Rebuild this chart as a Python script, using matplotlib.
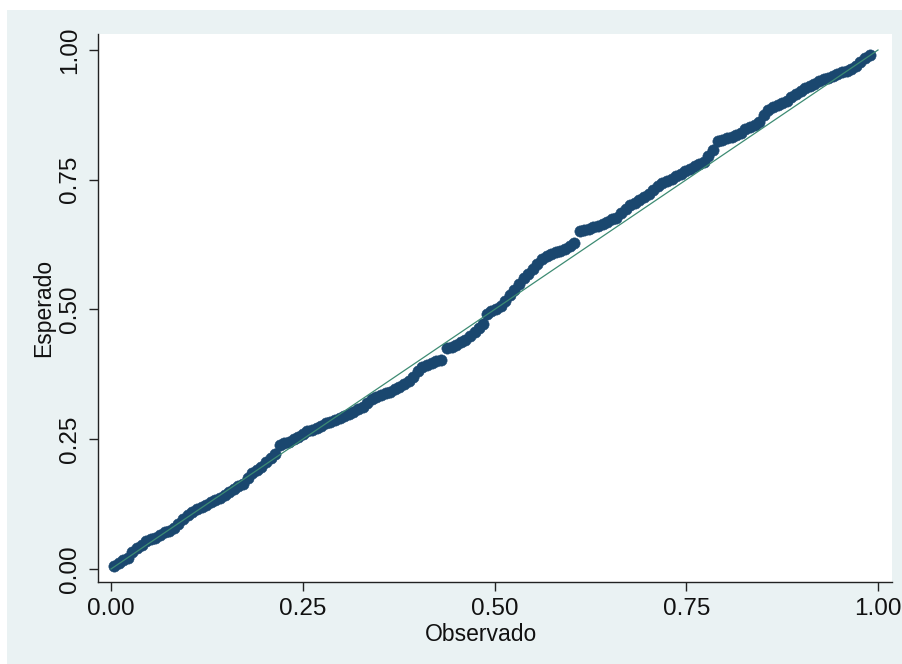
import matplotlib
matplotlib.use("Agg")
import matplotlib.pyplot as plt
from matplotlib.patches import Rectangle

plt.rcParams['font.family'] = ['Liberation Sans', 'DejaVu Sans']

observado = [
    0.004, 0.010, 0.016, 0.022, 0.028, 0.034, 0.040, 0.046, 0.052, 0.058,
    0.064, 0.070, 0.076, 0.082, 0.088, 0.094, 0.100, 0.106, 0.112, 0.118,
    0.124, 0.130, 0.136, 0.142, 0.148, 0.154, 0.160, 0.166, 0.172, 0.178,
    0.184, 0.190, 0.196, 0.202, 0.208, 0.214,
    0.220, 0.226, 0.232, 0.238, 0.244, 0.250, 0.256, 0.262, 0.268, 0.274,
    0.280, 0.286, 0.292, 0.298, 0.304, 0.310, 0.316, 0.322, 0.328, 0.334,
    0.340, 0.346, 0.352, 0.358, 0.364, 0.370, 0.376, 0.382, 0.388, 0.394,
    0.400, 0.406, 0.412, 0.418, 0.424, 0.430,
    0.438, 0.444, 0.450, 0.456, 0.462, 0.468, 0.474, 0.480, 0.485,
    0.490, 0.496, 0.502, 0.508, 0.514, 0.520, 0.526, 0.532, 0.538, 0.544,
    0.550, 0.556, 0.562, 0.568, 0.574, 0.580, 0.586, 0.592, 0.598, 0.604,
    0.611, 0.617, 0.623, 0.629, 0.635, 0.641, 0.647, 0.653, 0.659, 0.665,
    0.671, 0.677, 0.683, 0.689, 0.695, 0.701, 0.707, 0.713, 0.719, 0.725,
    0.731, 0.737, 0.743, 0.749, 0.755, 0.761, 0.767, 0.773, 0.779, 0.785,
    0.791, 0.797, 0.803, 0.809, 0.815, 0.821, 0.827, 0.833, 0.839, 0.845,
    0.851, 0.857, 0.863, 0.869, 0.875, 0.881, 0.887, 0.893, 0.899, 0.905,
    0.911, 0.917, 0.923, 0.929, 0.935, 0.941, 0.947, 0.953, 0.959, 0.965,
    0.971, 0.977, 0.983, 0.989,
]
esperado = [
    0.006, 0.012, 0.018, 0.022, 0.033, 0.040, 0.047, 0.054, 0.058, 0.060,
    0.066, 0.072, 0.074, 0.079, 0.087, 0.096, 0.104, 0.110, 0.116, 0.120,
    0.124, 0.130, 0.133, 0.137, 0.143, 0.149, 0.155, 0.160, 0.164, 0.176,
    0.185, 0.190, 0.197, 0.206, 0.213, 0.222,
    0.239, 0.242, 0.244, 0.250, 0.254, 0.260, 0.266, 0.267, 0.271, 0.276,
    0.281, 0.284, 0.287, 0.290, 0.294, 0.298, 0.303, 0.308, 0.313, 0.320,
    0.327, 0.332, 0.335, 0.339, 0.342, 0.346, 0.351, 0.357, 0.362, 0.370,
    0.381, 0.389, 0.394, 0.397, 0.400, 0.403,
    0.425, 0.428, 0.432, 0.437, 0.441, 0.448, 0.456, 0.465, 0.473,
    0.492, 0.497, 0.500, 0.506, 0.517, 0.527, 0.537, 0.549, 0.560, 0.568,
    0.578, 0.588, 0.597, 0.604, 0.607, 0.611, 0.613, 0.617, 0.622, 0.628,
    0.651, 0.653, 0.655, 0.658, 0.661, 0.665, 0.669, 0.674, 0.677, 0.685,
    0.694, 0.701, 0.706, 0.711, 0.717, 0.723, 0.730, 0.737, 0.743, 0.748,
    0.752, 0.757, 0.762, 0.767, 0.771, 0.776, 0.780, 0.785, 0.795, 0.808,
    0.824, 0.827, 0.830, 0.833, 0.836, 0.840, 0.848, 0.852, 0.855, 0.862,
    0.875, 0.885, 0.890, 0.894, 0.897, 0.902, 0.910, 0.916, 0.921, 0.926,
    0.930, 0.935, 0.940, 0.944, 0.947, 0.950, 0.953, 0.957, 0.960, 0.964,
    0.970, 0.977, 0.984, 0.990,
]
ref_line = [0.0, 1.0]
tick_vals = [0.0, 0.25, 0.5, 0.75, 1.0]
tick_labels = ["0.00", "0.25", "0.50", "0.75", "1.00"]

fig = plt.figure(figsize=(9.02, 6.64), dpi=100)
fig.patch.set_facecolor("white")
bg = Rectangle((7 / 902, 0), 895 / 902, 654 / 664,
               transform=fig.transFigure, facecolor="#EAF2F3",
               edgecolor="none", zorder=-10)
fig.patches.append(bg)

ax = fig.add_axes([98 / 902, 82 / 664, 794 / 902, 548 / 664])
ax.set_zorder(5)
ax.set_facecolor("white")

ax.scatter(observado, esperado, s=66, marker="o", color="#1A476F",
           edgecolors="#1A476F", linewidths=0.4, zorder=2)
ax.plot(ref_line, ref_line, color="#3d8b73", linewidth=0.9, zorder=3)

ax.set_xlim(-0.01695, 1.01825)
ax.set_ylim(-0.02505, 1.03083)

ax.set_xticks(tick_vals)
ax.set_xticklabels(tick_labels)
ax.set_yticks(tick_vals)
ax.set_yticklabels(tick_labels, rotation=90, va="center")

for s in ["top", "right"]:
    ax.spines[s].set_visible(False)
for s in ["left", "bottom"]:
    ax.spines[s].set_color("#222222")
    ax.spines[s].set_linewidth(1.0)

ax.tick_params(axis="both", direction="out", length=6.5, width=1.0,
               color="#222222", labelsize=17.5, labelcolor="#111111")
ax.tick_params(axis="y", pad=6)
ax.tick_params(axis="x", pad=5)

ax.set_xlabel("Observado", fontsize=16.5, color="#111111")
ax.set_ylabel("Esperado", fontsize=16.5, color="#111111")
ax.xaxis.set_label_coords(0.482, -0.075)
ax.yaxis.set_label_coords(-0.054, 0.5)

fig.savefig("out.png", dpi=100)
